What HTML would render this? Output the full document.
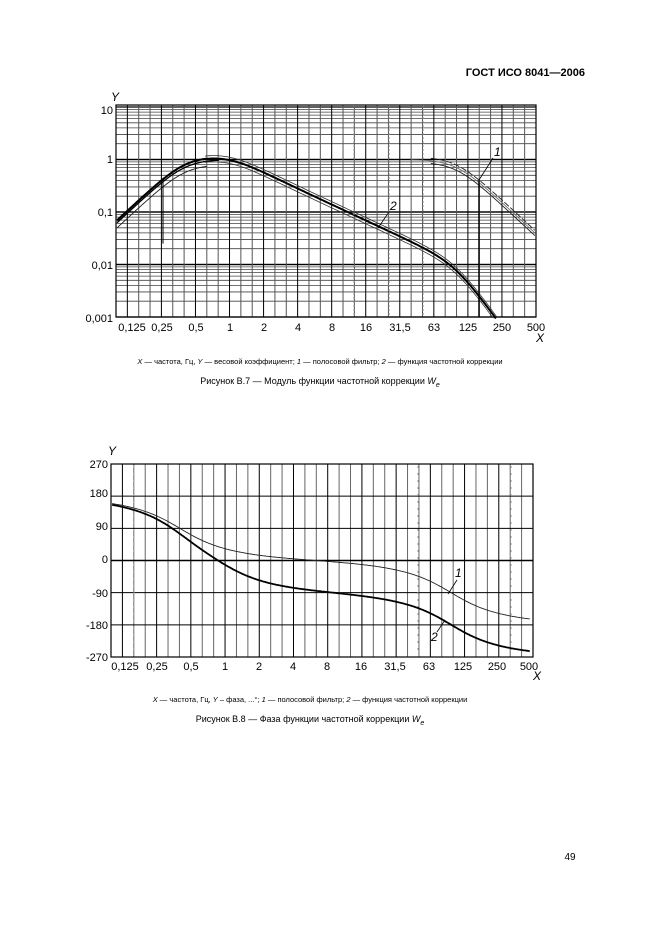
<!DOCTYPE html>
<html><head><meta charset="utf-8">
<style>
body{margin:0;background:#fff;}
svg{display:block;font-family:"Liberation Sans",Arial,sans-serif;}
</style></head>
<body>
<svg id="s" width="661" height="936" viewBox="0 0 661 936" xmlns="http://www.w3.org/2000/svg">
<rect width="661" height="936" fill="#fff"/>
<text x="585" y="76" font-size="11" font-weight="bold" text-anchor="end">ГОСТ ИСО 8041—2006</text>
<g id="top"></g>
<g id="bot"></g>
<g font-size="11">
<text x="115" y="101" font-style="italic" text-anchor="middle" font-size="12">Y</text>
<text x="540" y="342" font-style="italic" text-anchor="middle" font-size="12">X</text>
<text x="113" y="114" text-anchor="end">10</text>
<text x="113" y="163" text-anchor="end">1</text>
<text x="113" y="216" text-anchor="end">0,1</text>
<text x="113" y="269" text-anchor="end">0,01</text>
<text x="113" y="322" text-anchor="end">0,001</text>
</g>
<g font-size="11" text-anchor="middle" id="xl1"></g>
<text x="320" y="364" font-size="7.5" text-anchor="middle"><tspan font-style="italic">X</tspan> — частота, Гц, <tspan font-style="italic">Y</tspan> — весовой коэффициент; <tspan font-style="italic">1</tspan> — полосовой фильтр; <tspan font-style="italic">2</tspan> — функция частотной коррекции</text>
<text x="320" y="384" font-size="9" text-anchor="middle">Рисунок В.7 — Модуль функции частотной коррекции <tspan font-style="italic">W</tspan><tspan font-style="italic" font-size="7" dy="3">e</tspan></text>

<g font-size="11">
<text x="112" y="455" font-style="italic" text-anchor="middle" font-size="12">Y</text>
<text x="537" y="680" font-style="italic" text-anchor="middle" font-size="12">X</text>
<text x="108" y="468" text-anchor="end">270</text>
<text x="108" y="497" text-anchor="end">180</text>
<text x="108" y="530" text-anchor="end">90</text>
<text x="108" y="563" text-anchor="end">0</text>
<text x="108" y="597" text-anchor="end">-90</text>
<text x="108" y="629" text-anchor="end">-180</text>
<text x="108" y="661" text-anchor="end">-270</text>
</g>
<g font-size="11" text-anchor="middle" id="xl2"></g>
<text x="310" y="702" font-size="7.5" text-anchor="middle"><tspan font-style="italic">X</tspan> — частота, Гц, <tspan font-style="italic">Y</tspan> – фаза, ...°; <tspan font-style="italic">1</tspan> — полосовой фильтр; <tspan font-style="italic">2</tspan> — функция частотной коррекции</text>
<text x="310" y="722" font-size="9" text-anchor="middle">Рисунок В.8 — Фаза функции частотной коррекции <tspan font-style="italic">W</tspan><tspan font-style="italic" font-size="7" dy="3">e</tspan></text>
<text x="570" y="860" font-size="10" text-anchor="middle">49</text>
</svg>
<script>
var NS="http://www.w3.org/2000/svg";
function el(p,t,a){var e=document.createElementNS(NS,t);for(var k in a)e.setAttribute(k,a[k]);p.appendChild(e);return e;}
function cm(a,b){return [a[0]*b[0]-a[1]*b[1],a[0]*b[1]+a[1]*b[0]];}
function cd(a,b){var d=b[0]*b[0]+b[1]*b[1];return [(a[0]*b[0]+a[1]*b[1])/d,(a[1]*b[0]-a[0]*b[1])/d];}
function H(f,we){var w=2*Math.PI*f,s=[0,w];var w1=2*Math.PI*0.4,w2=2*Math.PI*100;
var s2=cm(s,s);
var hp=cd(s2,[s2[0]+w1*w1,s2[1]+Math.SQRT2*w1*w]);
var lp=cd([w2*w2,0],[s2[0]+w2*w2,s2[1]+Math.SQRT2*w2*w]);
var h=cm(hp,lp);
if(we){var w3=2*Math.PI*1;var num=[1,w/w3];var den=[1-w*w/(w3*w3),w/(0.63*w3)];h=cm(h,cd(num,den));}
return h;}
function mag(h){return Math.hypot(h[0],h[1]);}
var T=document.getElementById('top');
var X0=116,X1=536,ppo=34;
function xT(f){return 128+ppo*Math.log2(f/0.125);}
function yT(v){return 159.5-52.5*Math.log10(v);}
for(var d=-3;d<=0;d++){for(var k=1;k<=10;k++){var v=k*Math.pow(10,d);if(v>10.01)continue;var y=yT(v);
el(T,'line',{x1:X0,x2:X1,y1:y,y2:y,stroke:k==1||k==10?'#000':'#444','stroke-width':k==1||k==10?1.2:0.8});}}
el(T,'line',{x1:X0,x2:X1,y1:105,y2:105,stroke:'#000','stroke-width':1});
for(var i=0;i<=37;i++){var x=X0+i*(420/37);el(T,'line',{x1:x,x2:x,y1:105,y2:317,stroke:i%3==1?'#000':'#555','stroke-width':1});}
el(T,'rect',{x:X0,y:105,width:420,height:212,fill:'none',stroke:'#000','stroke-width':1.2});
function pathT(fn,fa,fb){var d='';for(var i=0;i<=300;i++){var f=fa*Math.pow(fb/fa,i/300);var v=fn(f);if(v<0.00092)break;var x=xT(f),y=yT(v);if(x<X0||x>X1)continue;d+=(d?'L':'M')+x.toFixed(1)+','+y.toFixed(1);}return d;}
var g1=el(T,'g',{fill:'none'});
el(g1,'path',{d:pathT(function(f){return mag(H(f,0))*1.15;},0.1,0.62),stroke:'#222','stroke-width':0.9});
el(g1,'path',{d:pathT(function(f){return mag(H(f,0))*0.8;},0.1,0.62),stroke:'#222','stroke-width':0.9});
el(g1,'path',{d:pathT(function(f){return mag(H(f,0));},0.1,0.8),stroke:'#000','stroke-width':1.3});
el(g1,'path',{d:pathT(function(f){return mag(H(f,0))*1.12;},60,500),stroke:'#222','stroke-width':0.9,'stroke-dasharray':'6,2'});
el(g1,'path',{d:pathT(function(f){return mag(H(f,0))*0.89;},60,500),stroke:'#222','stroke-width':0.9});
el(g1,'path',{d:pathT(function(f){return mag(H(f,0));},40,500),stroke:'#666','stroke-width':0.8});
el(g1,'path',{d:pathT(function(f){return mag(H(f,1))*1.1;},0.1,500),stroke:'#000','stroke-width':2});
el(g1,'path',{d:pathT(function(f){return mag(H(f,1))*1.25;},0.6,500),stroke:'#333','stroke-width':0.8});
el(g1,'path',{d:pathT(function(f){return mag(H(f,1))*0.95;},0.6,500),stroke:'#333','stroke-width':0.8});
el(T,'line',{x1:163,x2:163,y1:yT(0.45),y2:yT(0.025),stroke:'#000','stroke-width':1});
el(T,'line',{x1:479,x2:479,y1:yT(0.4),y2:317,stroke:'#000','stroke-width':1.5});
[354,389,423].forEach(function(x){el(T,'line',{x1:x,x2:x,y1:105,y2:317,stroke:'#888','stroke-width':1,'stroke-dasharray':'2,2'});});
el(T,'text',{x:494,y:156,'font-size':12,'font-style':'italic'}).textContent='1';
el(T,'line',{x1:493,x2:479,y1:158,y2:180,stroke:'#000','stroke-width':0.8});
el(T,'text',{x:390,y:210,'font-size':12,'font-style':'italic'}).textContent='2';
el(T,'line',{x1:389,x2:378,y1:212,y2:228,stroke:'#000','stroke-width':0.8});
var labs=['0,125','0,25','0,5','1','2','4','8','16','31,5','63','125','250','500'];
var L1=document.getElementById('xl1'),L2=document.getElementById('xl2');
labs.forEach(function(t,i){var x=128+34*i;if(i==12)x=536;
el(L1,'text',{x:(i==0?132:x),y:331}).textContent=t;
var x2=123+34*i;if(i==12)x2=529;if(i==0)x2=125;
el(L2,'text',{x:x2,y:670}).textContent=t;});
var B=document.getElementById('bot');
var BX0=111,BX1=533;
function xB(f){return 123+34*Math.log2(f/0.125);}
function yB(p){return 560.5-p*(193/540);}
for(var i=0;i<=37;i++){var x=BX0+i*(422/37);el(B,'line',{x1:x,x2:x,y1:464,y2:657,stroke:i%3==1?'#000':'#666','stroke-width':1});}
for(var p=-270;p<=270;p+=90){el(B,'line',{x1:BX0,x2:BX1,y1:yB(p),y2:yB(p),stroke:'#000','stroke-width':p==0?1.5:1});}
el(B,'rect',{x:BX0,y:464,width:422,height:193,fill:'none',stroke:'#000','stroke-width':1.2});
[134,418,511].forEach(function(x){el(B,'line',{x1:x,x2:x,y1:466,y2:655,stroke:'#999','stroke-width':1,'stroke-dasharray':'2,5'});});
function phase(f,we){var h=H(f,we);return Math.atan2(h[1],h[0])*180/Math.PI;}
function pathB(we){var d='',prev=null,off=0;for(var i=0;i<=400;i++){var f=0.1*Math.pow(5000,i/400);var a=phase(f,we);if(prev!==null){while(a+off-prev>180)off-=360;while(a+off-prev<-180)off+=360;}var v=a+off;prev=v;
var x=xB(f);if(x<BX0||x>BX1)continue;d+=(d?'L':'M')+x.toFixed(1)+','+yB(v).toFixed(1);}return d;}
el(B,'path',{d:pathB(0),fill:'none',stroke:'#222','stroke-width':0.9});
el(B,'path',{d:pathB(1),fill:'none',stroke:'#000','stroke-width':1.8});
el(B,'text',{x:455,y:577,'font-size':12,'font-style':'italic'}).textContent='1';
el(B,'line',{x1:457,x2:448,y1:580,y2:594,stroke:'#000','stroke-width':0.8});
el(B,'text',{x:431,y:641,'font-size':12,'font-style':'italic'}).textContent='2';
el(B,'line',{x1:437,x2:445,y1:632,y2:620,stroke:'#000','stroke-width':0.8});
</script>
</body></html>
